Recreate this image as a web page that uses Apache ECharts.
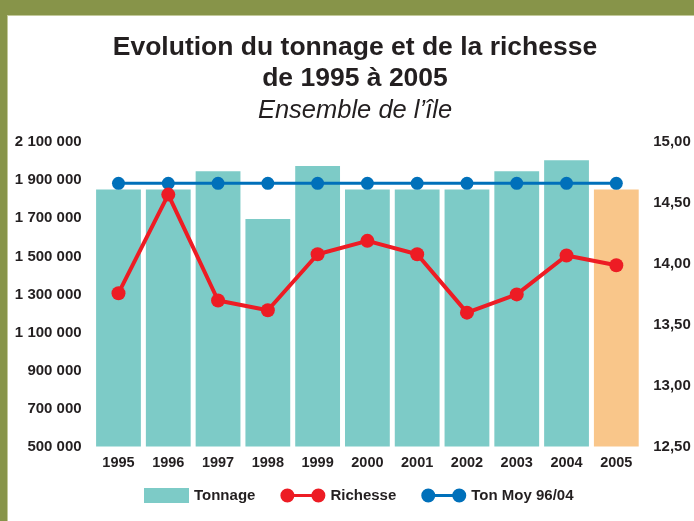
<!DOCTYPE html>
<html>
<head>
<meta charset="utf-8">
<script src="https://cdn.jsdelivr.net/npm/echarts@6/dist/echarts.min.js"></script>
<style>
html,body{margin:0;padding:0;background:#fff;}
#chart{width:694px;height:521px;}
</style>
</head>
<body>
<div id="chart"></div>
<script>
var years = ['1995','1996','1997','1998','1999','2000','2001','2002','2003','2004','2005'];
var tonnage = [1852000, 1852000, 1948000, 1696000, 1975000, 1852000, 1852000, 1852000, 1948000, 2006000, 1852000];
var richesse = [13.76, 14.57, 13.70, 13.62, 14.08, 14.19, 14.08, 13.60, 13.75, 14.07, 13.99];
var tonMoy = [1884000, 1884000, 1884000, 1884000, 1884000, 1884000, 1884000, 1884000, 1884000, 1884000, 1884000];
var leftTickLabels = ['500 000','700 000','900 000','1 100 000','1 300 000','1 500 000','1 700 000','1 900 000','2 100 000'];
var rightTickLabels = ['12,50','13,00','13,50','14,00','14,50','15,00'];
var titleLines = ['Evolution du tonnage et de la richesse', 'de 1995 à 2005', 'Ensemble de l\u2019île'];
var seriesNames = ['Tonnage', 'Richesse', 'Ton Moy 96/04'];

var FONT = '"Liberation Sans", Arial, sans-serif';
var TXT = '#231F20';
var TEAL = '#7DCBC7';
var ORANGE = '#F9C68A';
var RED = '#ED1C24';
var BLUE = '#0070BA';
var OLIVE = '#879449';

var dumbbell = 'path://M0,7.5A7,7 0 1,1 14,7.5A7,7 0 1,1 0,7.5Z M31,7.5A7,7 0 1,1 45,7.5A7,7 0 1,1 31,7.5Z M7,6L38,6L38,9L7,9Z';

var chart = echarts.init(document.getElementById('chart'), null, {renderer: 'canvas'});
chart.setOption({
  backgroundColor: '#fff',
  animation: false,
  textStyle: {fontFamily: FONT},
  graphic: [
    {type: 'rect', shape: {x: 0, y: 0, width: 694, height: 15}, style: {fill: OLIVE}, silent: true},
    {type: 'rect', shape: {x: 0, y: 0, width: 7, height: 521}, style: {fill: OLIVE}, silent: true},
    {type: 'rect', shape: {x: 7, y: 15, width: 687, height: 1}, style: {fill: '#C3C99B'}, silent: true},
    {type: 'rect', shape: {x: 7, y: 15, width: 1, height: 506}, style: {fill: '#C3C99B'}, silent: true}
  ],
  title: [
    {text: titleLines[0], left: 350, top: 28, textAlign: 'center',
     textStyle: {fontFamily: FONT, fontSize: 26.5, fontWeight: 'bold', color: TXT, lineHeight: 30}},
    {text: titleLines[1], left: 350, top: 59, textAlign: 'center',
     textStyle: {fontFamily: FONT, fontSize: 26.5, fontWeight: 'bold', color: TXT, lineHeight: 30}},
    {text: titleLines[2], left: 350, top: 91, textAlign: 'center',
     textStyle: {fontFamily: FONT, fontSize: 25.5, fontWeight: 'normal', fontStyle: 'italic', color: TXT, lineHeight: 30}}
  ],
  legend: {
    left: 144, top: 488, padding: 0,
    itemWidth: 45, itemHeight: 15, itemGap: 25,
    textStyle: {fontFamily: FONT, fontSize: 15, fontWeight: 'bold', color: TXT},
    data: [
      {name: seriesNames[0], icon: 'rect'},
      {name: seriesNames[1], icon: dumbbell},
      {name: seriesNames[2], icon: dumbbell}
    ]
  },
  grid: {left: 93.6, right: 52.8, top: 142.3, bottom: 74.5, containLabel: false},
  xAxis: {
    type: 'category', data: years,
    axisLine: {show: false}, axisTick: {show: false},
    axisLabel: {color: TXT, fontFamily: FONT, fontSize: 14.5, fontWeight: 'bold', margin: 9, interval: 0}
  },
  yAxis: [
    {type: 'value', min: 500000, max: 2100000, interval: 200000,
     splitLine: {show: false}, axisLine: {show: false}, axisTick: {show: false},
     axisLabel: {color: TXT, fontFamily: FONT, fontSize: 15, fontWeight: 'bold', margin: 12,
       formatter: function (v) { return leftTickLabels[Math.round((v - 500000) / 200000)]; }}},
    {type: 'value', min: 12.5, max: 15, interval: 0.5, position: 'right',
     splitLine: {show: false}, axisLine: {show: false}, axisTick: {show: false},
     axisLabel: {color: TXT, fontFamily: FONT, fontSize: 15, fontWeight: 'bold', margin: 12,
       formatter: function (v) { return rightTickLabels[Math.round((v - 12.5) / 0.5)]; }}}
  ],
  series: [
    {name: seriesNames[0], type: 'bar', yAxisIndex: 0, barCategoryGap: '10%',
     itemStyle: {color: TEAL},
     data: tonnage.map(function (v, i) {
       return i === tonnage.length - 1 ? {value: v, itemStyle: {color: ORANGE}} : v;
     }), z: 1},
    {name: seriesNames[1], type: 'line', yAxisIndex: 1, data: richesse,
     symbol: 'circle', symbolSize: 14,
     itemStyle: {color: RED}, lineStyle: {color: RED, width: 4}, z: 4},
    {name: seriesNames[2], type: 'line', yAxisIndex: 0, data: tonMoy,
     symbol: 'circle', symbolSize: 13,
     itemStyle: {color: BLUE}, lineStyle: {color: BLUE, width: 3}, z: 3}
  ]
});
</script>
</body>
</html>
